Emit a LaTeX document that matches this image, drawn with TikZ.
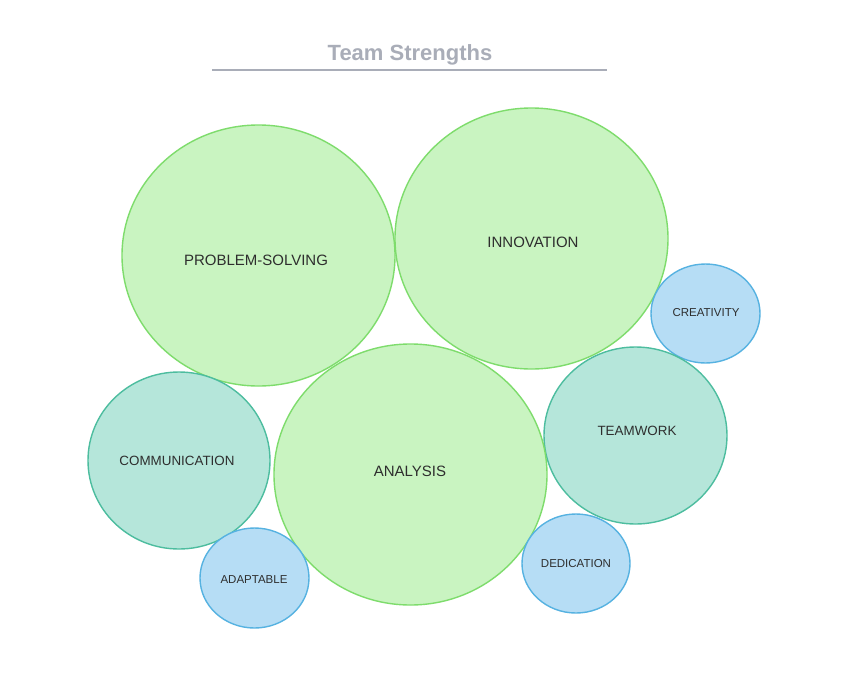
\documentclass[tikz,border=0pt]{standalone}
\usepackage{fontspec}
\setmainfont{Liberation Sans}
\definecolor{gfill}{HTML}{C9F4C1}
\definecolor{gline}{HTML}{7EDC6C}
\definecolor{tfill}{HTML}{B5E6DA}
\definecolor{tline}{HTML}{4DBD9F}
\definecolor{bfill}{HTML}{B6DDF5}
\definecolor{bline}{HTML}{56B2E1}
\definecolor{txt}{HTML}{2E2E2E}
\definecolor{ttl}{HTML}{A9ADB8}
\begin{document}
\begin{tikzpicture}[x=1pt,y=-1pt,
  big/.style={fill=gfill,draw=gline,line width=1.4pt},
  mid/.style={fill=tfill,draw=tline,line width=1.4pt},
  small/.style={fill=bfill,draw=bline,line width=1.4pt},
  lbl/.style={text=txt,inner sep=0pt}]
\useasboundingbox (0,0) rectangle (857,686);
\fill[white] (0,0) rectangle (857,686);
\node[font=\bfseries\fontsize{22}{26}\selectfont,text=ttl] (title) at (410,55) {Team Strengths};
\coordinate (tl) at (212,70);
\coordinate (tr) at (607,70);
\draw[ttl,line width=1.2pt] (tl) -- (tr);
% circles
\draw[big] (258.5,255.5) ellipse [x radius=136.5, y radius=130.5];
\draw[big] (531.5,238.5) ellipse [x radius=136.5, y radius=130.5];
\draw[small] (705.5,313.5) ellipse [x radius=54.5, y radius=49.5];
\draw[mid] (179,460.5) ellipse [x radius=91, y radius=88.5];
\draw[mid] (635.5,435.5) ellipse [x radius=91.5, y radius=88.5];
\draw[big] (410.5,474.5) ellipse [x radius=136.5, y radius=130.5];
\draw[small] (254.5,578) ellipse [x radius=54.5, y radius=50];
\draw[small] (576,563.5) ellipse [x radius=54, y radius=49.5];
% labels
\node[lbl,font=\fontsize{15}{17}\selectfont] (ps) at (256,260) {PROBLEM-SOLVING};
\node[lbl,font=\fontsize{15}{17}\selectfont] (inn) at (533,242) {INNOVATION};
\node[lbl,font=\fontsize{15}{17}\selectfont] (ana) at (410,471) {ANALYSIS};
\node[lbl,font=\fontsize{13.4}{15}\selectfont] (com) at (177,461) {COMMUNICATION};
\node[lbl,font=\fontsize{13.4}{15}\selectfont] (tw) at (637,431) {TEAMWORK};
\node[lbl,font=\fontsize{11.5}{13}\selectfont] (cre) at (706,313) {CREATIVITY};
\node[lbl,font=\fontsize{11.5}{13}\selectfont] (ada) at (254,580) {ADAPTABLE};
\node[lbl,font=\fontsize{11.5}{13}\selectfont] (ded) at (576,564) {DEDICATION};
\end{tikzpicture}
\end{document}
